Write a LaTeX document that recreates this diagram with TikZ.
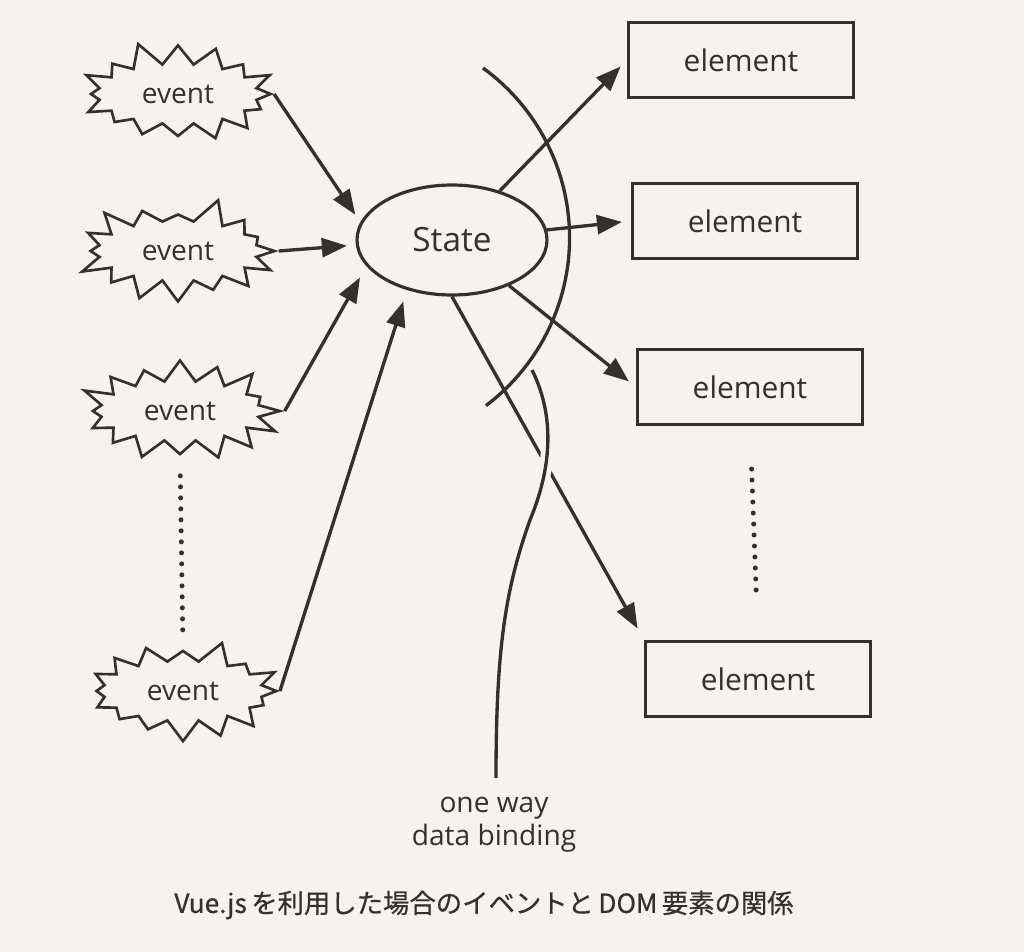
\documentclass[tikz,border=0pt]{standalone}
\usepackage{fontspec}
\setmainfont{Open Sans}
\newfontfamily\jpfont[FakeBold=0.6]{Noto Sans CJK JP}
\usetikzlibrary{arrows.meta,positioning,shapes.geometric,shapes.symbols,calc}
\definecolor{ink}{RGB}{55,47,47}
\definecolor{paper}{RGB}{244,243,241}

\begin{document}
\begin{tikzpicture}[x=0.2mm, y=-0.2mm,
  event/.style={starburst, draw=ink, line width=1.5pt, fill=paper, starburst points=16,
                starburst point height=5mm, minimum width=42mm, minimum height=22mm,
                inner sep=0pt, text=ink, font=\fontsize{16}{18}\selectfont},
  state/.style={ellipse, draw=ink, line width=1.8pt, fill=paper, minimum width=38mm,
                minimum height=22mm, text=ink, font=\fontsize{19}{22}\selectfont},
  element/.style={rectangle, draw=ink, line width=1.8pt, fill=paper, minimum width=45mm,
                  minimum height=15mm, text=ink, font=\fontsize{17}{20}\selectfont},
  arr/.style={draw=ink, line width=1.9pt, -{Triangle[length=5mm,width=3.8mm]},
              shorten >=1.8mm},
  curve/.style={draw=ink, line width=1.9pt},
  dotline/.style={draw=ink, line width=1mm, line cap=round, dash pattern=on 0pt off 2.2mm}
]
\fill[paper] (0,0) rectangle (1024,952);

\node[event, random starburst=11] (ev1) at (178,94) {event};
\node[event, random starburst=23] (ev2) at (178,251) {event};
\node[event, random starburst=37] (ev3) at (180,411) {event};
\node[event, random starburst=52] (ev4) at (183,691) {event};

\node[state] (state) at (452,240) {State};

\node[element] (el1) at (741,60) {element};
\node[element] (el2) at (745,221) {element};
\node[element] (el3) at (750,387) {element};
\node[element] (el4) at (758,679) {element};

\draw[dotline, shorten <=4mm, shorten >=3mm] (ev3.south) -- (ev4.north);
\draw[dotline, shorten <=8.6mm, shorten >=8.8mm] (el3.south) -- (el4.north);

\draw[arr] (ev1.east) -- (state.169);
\draw[arr] (ev2.east) -- (state.183);
\draw[arr, shorten >=2.6mm] (ev3.east) -- (state.197);
\draw[arr, shorten >=2.4mm] (ev4.east) -- (state.228);

\draw[arr] (state) -- (el1.west);
\draw[arr] (state) -- (el2.west);
\draw[arr] (state) -- (el3.west);
\draw[arr, shorten >=2.6mm] (state.south) -- (el4.north west);

\draw[curve, preaction={draw=paper, line width=2.6mm}]
  (532,370) .. controls (552,410) and (555,460) .. (530,520)
  .. controls (505,590) and (496,650) .. (496,778);
\draw[curve] (483,68) arc[start angle=54, end angle=-53, radius=42mm];

\node[align=center, text=ink, font=\fontsize{16}{19}\selectfont] (bind) at (494,825)
  {one way\\data binding};
\node[text=ink, font=\jpfont\fontsize{15}{18}\selectfont] (cap) at (484,905)
  {Vue.js\,を利用した場合のイベントと\,DOM\,要素の関係};
\end{tikzpicture}
\end{document}
